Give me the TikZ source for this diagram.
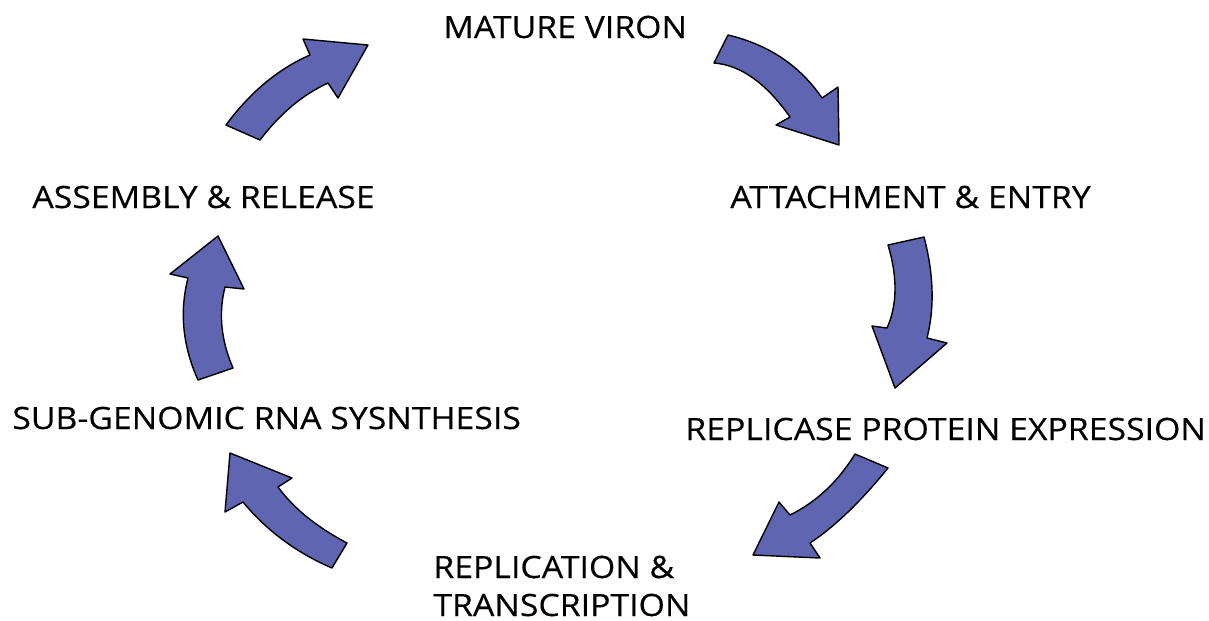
\documentclass[tikz,border=0pt]{standalone}
\usepackage{fontspec}
\usetikzlibrary{calc}
\setmainfont[FakeStretch=1.1,FakeBold=0.3]{Open Sans}
\definecolor{arrowfill}{RGB}{95,101,176}
% quadratic curve helper: from point #1 via control #2 to #3
\newcommand{\qc}[3]{.. controls ($(#1)!2/3!(#2)$) and ($(#3)!2/3!(#2)$) .. (#3)}
\begin{document}
\begin{tikzpicture}[x=0.02cm,y=-0.02cm,
  blockarrow/.style={fill=arrowfill,draw=black,line width=0.8pt,line join=round},
  lbl/.style={anchor=base west,inner sep=0pt,font=\fontsize{17.5}{21}\selectfont}]
\useasboundingbox (0,0) rectangle (1209,620);
% labels
\node[lbl] (mature) at (443,38) {MATURE VIRON};
\node[lbl] (attach) at (730,208) {ATTACHMENT \& ENTRY};
\node[lbl] (replicase) at (685,440) {REPLICASE PROTEIN EXPRESSION};
\node[lbl] (replication) at (433,578) {REPLICATION \&};
\node[lbl] (transcription) at (433,616) {TRANSCRIPTION};
\node[lbl] (subgen) at (12,429) {SUB-GENOMIC RNA SYSNTHESIS};
\node[lbl] (assembly) at (32,208) {ASSEMBLY \& RELEASE};
% arrows
\draw[blockarrow] (226,125) \qc{226,125}{262,76}{310,55} -- (303,39) -- (368,45) -- (338,98) -- (328,83) \qc{328,83}{290,100.5}{260,140} -- cycle;
\draw[blockarrow] (728,35) \qc{728,35}{789,49.5}{822,98} -- (838,87) -- (839,145) -- (776,125) -- (790,117) \qc{790,117}{754,66}{714,63} -- cycle;
\draw[blockarrow] (888,245) -- (924,237) \qc{924,237}{938.5,292.5}{927,338} -- (947,343) -- (895,388) -- (872,326) -- (887,328) \qc{887,328}{902.5,293.5}{888,245} -- cycle;
\draw[blockarrow] (855,454) -- (888,468) \qc{888,468}{847,518.5}{810,543} -- (820,558) -- (753,555) -- (779,502) -- (790,515) \qc{790,515}{829.5,495.5}{855,454} -- cycle;
\draw[blockarrow] (332,568) -- (347,543) \qc{347,543}{301.5,519}{278,487} -- (292,478) -- (230,453) -- (225,512) -- (243,502) \qc{243,502}{278.5,545}{332,568} -- cycle;
\draw[blockarrow] (198,380) -- (233,368) \qc{233,368}{215,326.5}{225,287} -- (244,289) -- (218,236) -- (170,274) -- (188,278) \qc{188,278}{175,329}{198,380} -- cycle;
\end{tikzpicture}
\end{document}
